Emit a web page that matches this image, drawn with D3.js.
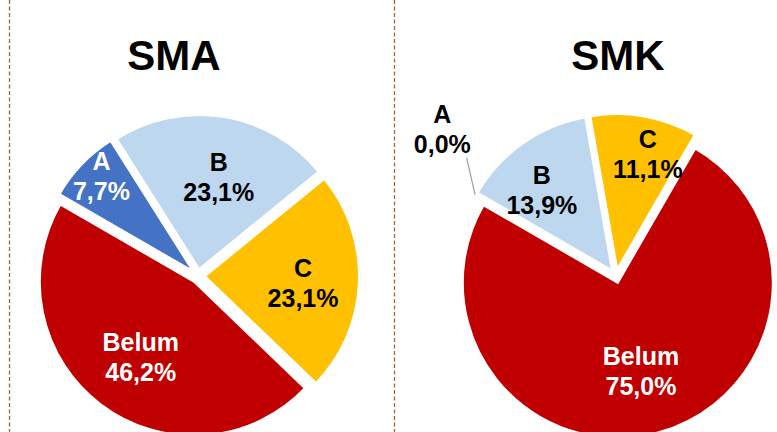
<!DOCTYPE html>
<html>
<head>
<meta charset="utf-8">
<script src="https://cdn.jsdelivr.net/npm/d3@7"></script>
<style>
  body { margin: 0; background: #fff; }
  text { font-family: "Liberation Sans", Arial, sans-serif; font-weight: bold; }
</style>
</head>
<body>
<div id="chart"></div>
<script>
var width = 777,
    height = 432;

// data
var categories = ["A", "B", "C", "Belum"];
var smaValues = [7.7, 23.1, 23.1, 46.2];
var smkValues = [0.0, 13.9, 11.1, 75.0];
var titles = ["SMA", "SMK"];

var colors = ["#4472C4", "#BDD7EE", "#FFC000", "#C00000"];
var textColors = {
  SMA: ["#fff", "#000", "#000", "#fff"],
  SMK: ["#000", "#000", "#000", "#fff"]
};

// label placement: [angle in degrees, radius fraction] per slice
var labelPolar = {
  SMA: [[-46.8, 0.86], [13, 0.6], [98.7, 0.69], [212.6, 0.69]],
  SMK: [[-51.6, 1.43], [-43.9, 0.69], [15.7, 0.76], [166.5, 0.69]]
};

var pies = [
  { name: "SMA", values: smaValues, cx: 198, cy: 276, r: 154, titleX: 174 },
  { name: "SMK", values: smkValues, cx: 616, cy: 276, r: 155, titleX: 618 }
];

var explode = 7;
var startAngle = -60 * Math.PI / 180;

var svg = d3.select("#chart").append("svg")
    .attr("width", width)
    .attr("height", height);

// dotted separators
[9.5, 394.5].forEach(function(x) {
  svg.append("line")
    .attr("x1", x).attr("x2", x)
    .attr("y1", 0).attr("y2", height)
    .attr("stroke", "#A0663C")
    .attr("stroke-width", 1.3)
    .attr("stroke-dasharray", "4,2.5");
});

var pie = d3.pie()
    .sort(null)
    .value(function(d) { return d; })
    .startAngle(startAngle)
    .endAngle(startAngle + 2 * Math.PI);

function fmt(v) {
  return v.toFixed(1).replace(".", ",") + "%";
}

function polar(cx, cy, deg, dist) {
  var a = deg * Math.PI / 180;
  return [cx + Math.sin(a) * dist, cy - Math.cos(a) * dist];
}

pies.forEach(function(p) {
  var g = svg.append("g");

  g.append("text")
    .attr("x", p.titleX)
    .attr("y", 70)
    .attr("text-anchor", "middle")
    .attr("font-size", 42)
    .attr("fill", "#000")
    .text(p.name);

  var arc = d3.arc()
      .innerRadius(0)
      .outerRadius(p.r);

  var arcs = pie(p.values);

  g.selectAll("path.slice")
    .data(arcs)
    .enter().append("path")
      .attr("class", "slice")
      .attr("d", arc)
      .attr("transform", function(d) {
        var mid = (d.startAngle + d.endAngle) / 2;
        var dx = Math.sin(mid) * explode,
            dy = -Math.cos(mid) * explode;
        return "translate(" + (p.cx + dx) + "," + (p.cy + dy) + ")";
      })
      .attr("fill", function(d, i) { return colors[i]; })
      .attr("stroke", "#fff")
      .attr("stroke-width", 2)
      .attr("stroke-linejoin", "miter");

  // leader line for zero slice
  arcs.forEach(function(d, i) {
    if (d.value === 0) {
      var a0 = d.startAngle * 180 / Math.PI;
      var s = polar(p.cx, p.cy, a0, p.r * 1.05);
      var e = polar(p.cx, p.cy, labelPolar[p.name][i][0], p.r * 1.23);
      g.append("line")
        .attr("x1", s[0]).attr("y1", s[1])
        .attr("x2", e[0]).attr("y2", e[1])
        .attr("stroke", "#A6A6A6")
        .attr("stroke-width", 1.3);
    }
  });

  var labels = g.selectAll("text.lbl")
    .data(arcs)
    .enter().append("text")
      .attr("class", "lbl")
      .attr("text-anchor", "middle")
      .attr("font-size", 25)
      .attr("fill", function(d, i) { return textColors[p.name][i]; })
      .each(function(d, i) {
        var lp = labelPolar[p.name][i];
        var pt = polar(p.cx, p.cy, lp[0], lp[1] * p.r);
        var t = d3.select(this);
        t.append("tspan").attr("x", pt[0]).attr("y", pt[1] - 15).text(categories[i]);
        t.append("tspan").attr("x", pt[0]).attr("y", pt[1] + 15).text(fmt(d.value));
      });
});
</script>
</body>
</html>
